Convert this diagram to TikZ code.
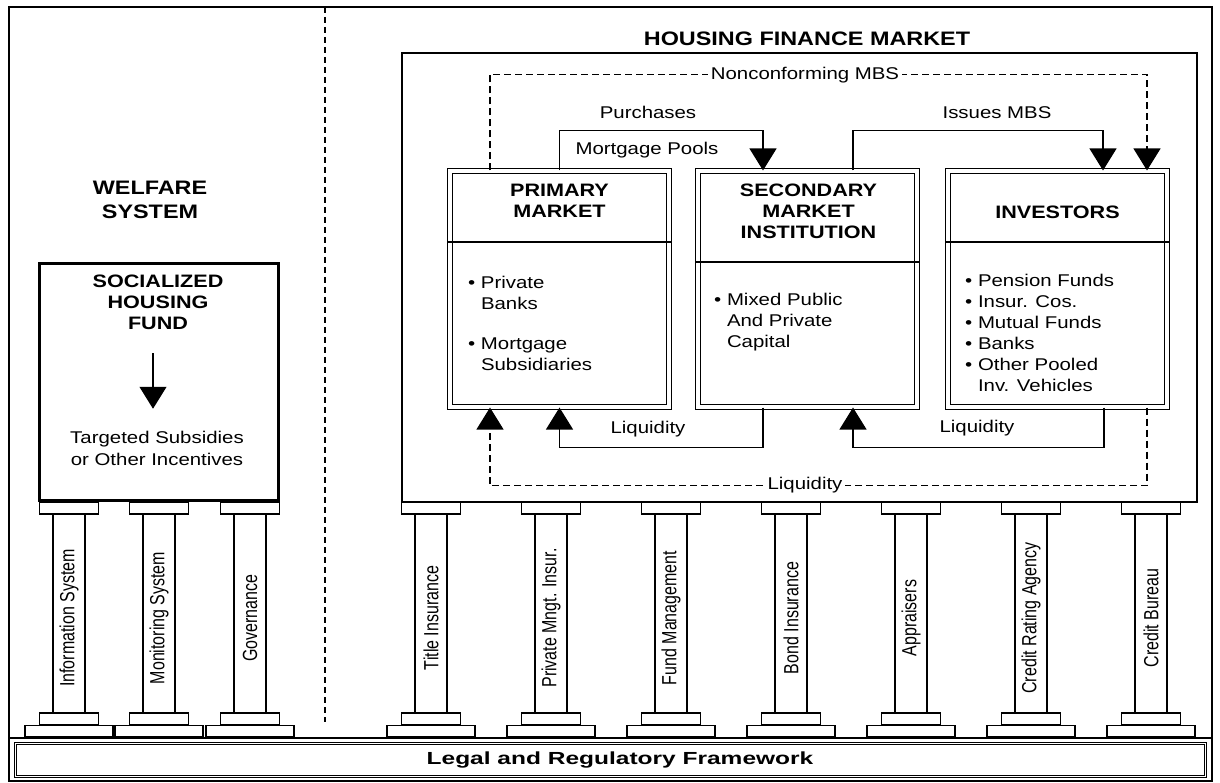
\documentclass[tikz,border=0pt]{standalone}
\usepackage{fontspec}
\setmainfont{Liberation Sans}[FakeStretch=1.2]
\newfontfamily\pillarfont{Liberation Sans}[FakeStretch=0.78]
\newfontfamily\legalfont{Liberation Sans}[FakeStretch=1.4]
\usetikzlibrary{arrows.meta}

\begin{document}
\begin{tikzpicture}[x=1pt,y=-1pt,
    >={Triangle[length=22pt,width=27pt]},
    txt/.style={font=\fontsize{17}{21}\selectfont, inner sep=0pt, align=center},
    head/.style={font=\fontsize{18}{21}\selectfont\bfseries, inner sep=0pt, align=center},
    mkt/.style={draw, double, line width=1.1pt, double distance=3.6pt,
        minimum width=219pt, minimum height=236pt, inner sep=0pt},
    flow/.style={line width=1.2pt},
    dflow/.style={line width=1.2pt, dash pattern=on 7pt off 4pt},
    pillar/.style={font=\pillarfont\fontsize{20.5}{20.5}\selectfont, rotate=90, inner sep=0pt}]
    \useasboundingbox (0,0) rectangle (1220,783);

    % frame and split
    \draw[line width=1.5pt] (9,7) rectangle (1212,781);
    \draw[line width=1.2pt, dash pattern=on 6pt off 4pt] (325,7) -- (325,722);
    \draw[line width=1.2pt] (9,738) -- (1212,738);
    \node[draw, double, line width=0.8pt, double distance=1.8pt,
        minimum width=1190pt, minimum height=33pt] (legal) at (610.5,760) {};
    \node[font=\legalfont\fontsize{17.5}{17.5}\selectfont\bfseries, inner sep=0pt]
        (legalT) at (620,760) {Legal and Regulatory Framework};

    % welfare side
    \node[font=\fontsize{19.5}{24}\selectfont\bfseries, align=center, inner sep=0pt]
        (welf) at (150,200) {WELFARE\\SYSTEM};
    \node[draw, line width=3pt, minimum width=239pt, minimum height=237pt] (soc) at (159,382) {};
    \node[head] (socT) at (158,302) {SOCIALIZED\\HOUSING\\FUND};
    \node[txt, font=\fontsize{17}{22}\selectfont] (subs) at (157,448)
        {Targeted Subsidies\\or Other Incentives};
    \draw[flow,->] ([xshift=-5pt,yshift=-23.5pt]socT.south) -- ([xshift=-4pt,yshift=21.8pt]subs.north);

    % housing finance market
    \node[draw, line width=1.5pt, minimum width=795pt, minimum height=449pt] (hfm) at (799.5,277.5) {};
    \node[font=\fontsize{19.5}{19.5}\selectfont\bfseries, inner sep=0pt] (hfmT) at (807,39)
        {HOUSING FINANCE MARKET};

    \node[mkt] (prim) at (559.5,289) {};
    \node[mkt] (secm) at (807.5,289) {};
    \node[mkt] (inv) at (1057.5,289) {};
    \draw[line width=1.2pt] (447,242) -- (672,242);
    \draw[line width=1.2pt] (695,262) -- (920,262);
    \draw[line width=1.2pt] (945,242) -- (1170,242);

    \node[head] (primT) at (559.5,200.5) {PRIMARY\\MARKET};
    \node[head] (secmT) at (808.5,211) {SECONDARY\\MARKET\\INSTITUTION};
    \node[head] (invT) at (1057.5,212) {INVESTORS};

    \node[txt, anchor=north west, align=left] (primB) at (468,276)
        {\textbullet\ Private\\\phantom{\textbullet\ }Banks\\[19pt]
         \textbullet\ Mortgage\\\phantom{\textbullet\ }Subsidiaries};
    \node[txt, anchor=north west, align=left] (secmB) at (714,293)
        {\textbullet\ Mixed Public\\\phantom{\textbullet\ }And Private\\\phantom{\textbullet\ }Capital};
    \node[txt, anchor=north west, align=left] (invB) at (965,274)
        {\textbullet\ Pension Funds\\\textbullet\ Insur. Cos.\\\textbullet\ Mutual Funds\\
         \textbullet\ Banks\\\textbullet\ Other Pooled\\\phantom{\textbullet\ }Inv. Vehicles};

    % flows between the markets
    \draw[flow,->] (prim.north) -- ++(0,-40) -| ([xshift=-44.5pt]secm.north);
    \draw[flow,->] ([xshift=45.5pt]secm.north) -- ++(0,-40) -| ([xshift=45.5pt]inv.north);
    \draw[dflow,->] ([xshift=-69.5pt]prim.north) -- ++(0,-96) -| ([xshift=89.5pt]inv.north);
    \draw[flow,->] ([xshift=-44.5pt]secm.south) -- ++(0,40) -| (prim.south);
    \draw[flow,->] ([xshift=46.5pt]inv.south) -- ++(0,40) -| ([xshift=45.5pt]secm.south);
    \draw[dflow,->] ([xshift=89.5pt]inv.south) -- ++(0,78) -| ([xshift=-69.5pt]prim.south);

    \node[txt] (purch) at (648,112) {Purchases};
    \node[txt] (pools) at (647,150) {Mortgage Pools};
    \node[txt] (issues) at (997,113) {Issues MBS};
    \node[txt, fill=white, inner xsep=3pt, inner ysep=2pt] (nonc) at (805,75) {Nonconforming MBS};
    \node[txt] (liqA) at (648,429) {Liquidity};
    \node[txt] (liqB) at (977,428) {Liquidity};
    \node[txt, fill=white, inner xsep=3pt, inner ysep=2pt] (liqC) at (805,485) {Liquidity};

    % pillars
    \foreach \cx/\lbl [count=\i] in {69/Information System, 159/Monitoring System, 250/Governance,
        431/Title Insurance, 551/Private Mngt. Insur., 671/Fund Management, 791/Bond Insurance,
        911/Appraisers, 1031/Credit Rating Agency, 1151/Credit Bureau} {
      \draw[line width=1.3pt] (\cx-29.5,502) rectangle (\cx+29.5,514)
          (\cx-16,514) rectangle (\cx+16,713)
          (\cx-29.5,713) rectangle (\cx+29.5,724.5)
          (\cx-44,725.5) rectangle (\cx+44,737);
      \node[pillar] (col\i) at (\cx,618) {\lbl};
    }
\end{tikzpicture}
\end{document}
